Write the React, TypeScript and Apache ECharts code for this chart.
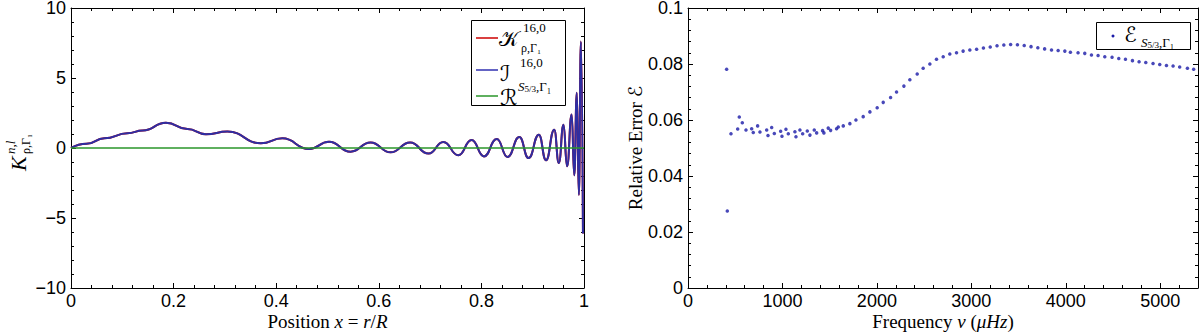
import React, { useEffect, useRef } from 'react';
import * as echarts from 'echarts';

// Left panel: kernel K^{n,l}_{rho,Gamma1} vs position x = r/R (extrema)
const kernelX = [0, 0.03, 0.065, 0.11, 0.14, 0.185, 0.227, 0.263, 0.305, 0.37, 0.412, 0.464, 0.503, 0.545, 0.584, 0.623, 0.661, 0.697, 0.726, 0.755, 0.781, 0.805, 0.83, 0.851, 0.874, 0.892, 0.912, 0.926, 0.942, 0.951, 0.96, 0.967, 0.976, 0.981, 0.986, 0.99, 0.994, 0.998];
const kernelY = [0, 0.3, 0.69, 1.05, 1.25, 1.81, 1.35, 0.98, 1.17, 0.34, 0.69, -0.07, 0.45, -0.26, 0.4, -0.31, 0.4, -0.4, 0.43, -0.52, 0.57, -0.6, 0.64, -0.64, 0.78, -0.72, 0.95, -0.88, 1.31, -1.07, 1.66, -1.31, 2.4, -1.95, 3.95, -3.35, 7.6, -6.1];
const refX = [0, 1];
const refY = [0, 0];

// Right panel: relative error vs frequency (muHz)
const freq = [409, 416, 455, 526, 543, 575, 614, 674, 691, 737, 762, 833, 847, 886, 914, 981, 995, 1037, 1062, 1132, 1143, 1185, 1214, 1263, 1291, 1337, 1362, 1425, 1439, 1485, 1510, 1573, 1591, 1644, 1714, 1778, 1855, 1926, 2003, 2067, 2145, 2208, 2286, 2349, 2427, 2490, 2561, 2631, 2702, 2772, 2843, 2913, 2984, 3056, 3128, 3200, 3272, 3344, 3416, 3488, 3560, 3632, 3704, 3776, 3849, 3919, 3990, 4049, 4130, 4201, 4272, 4342, 4413, 4490, 4561, 4632, 4706, 4776, 4847, 4924, 4995, 5066, 5136, 5206, 5288, 5354];
const relErr = [0.0781, 0.0275, 0.0551, 0.0568, 0.0611, 0.059, 0.0564, 0.0569, 0.0555, 0.0579, 0.0557, 0.0564, 0.0545, 0.0573, 0.0552, 0.056, 0.0542, 0.0567, 0.0551, 0.0558, 0.054, 0.0564, 0.0551, 0.0561, 0.0546, 0.0564, 0.0554, 0.0562, 0.0554, 0.0571, 0.0563, 0.0569, 0.0575, 0.0579, 0.0587, 0.06, 0.0612, 0.0629, 0.0644, 0.0663, 0.068, 0.07, 0.0721, 0.0744, 0.0764, 0.0785, 0.08, 0.0817, 0.0826, 0.0836, 0.084, 0.0846, 0.085, 0.0853, 0.0857, 0.0861, 0.0865, 0.0868, 0.087, 0.0869, 0.0866, 0.0862, 0.0858, 0.0854, 0.085, 0.0848, 0.0846, 0.0842, 0.084, 0.0838, 0.0832, 0.083, 0.0826, 0.0824, 0.082, 0.0817, 0.0812, 0.0808, 0.0805, 0.0802, 0.0798, 0.0795, 0.0793, 0.0789, 0.0785, 0.0781];

const SANS = 'Liberation Sans, Arial, sans-serif';
const SERIF = 'Liberation Serif, DejaVu Serif, serif';
const SCRIPT = 'DejaVu Serif, DejaVu Sans, serif';

const lineStyle = { color: '#000', width: 1 };
const labelStyle = { fontFamily: SANS, fontSize: 18, lineHeight: 16, color: '#000' };

function axis(gridIndex: number, position: string, min: number, max: number, interval: number, labels: boolean, extra: any = {}) {
  return {
    type: 'value',
    gridIndex,
    position,
    min,
    max,
    interval,
    axisLine: { show: true, onZero: false, lineStyle },
    axisTick: { show: true, inside: true, length: 5, lineStyle },
    minorTick: { show: true, splitNumber: 5, length: 3, lineStyle },
    splitLine: { show: false },
    minorSplitLine: { show: false },
    axisLabel: labels
      ? { ...labelStyle, margin: 5, showMaxLabel: extra.showMaxLabel ?? true, formatter: extra.formatter || ((v: number) => String(v)) }
      : { show: false },
    ...(extra.name
      ? { name: extra.name, nameLocation: 'middle', nameGap: extra.nameGap, nameMoveOverlap: false, nameTextStyle: extra.nameTextStyle }
      : {}),
  };
}

const minusFmt = (v: number) => (v < 0 ? '\u2212' + Math.abs(v) : String(v));

function txt(x: number, y: number, text: string, size: number, opts: any = {}) {
  return {
    type: 'text',
    x,
    y,
    z: 110,
    style: {
      text,
      fontSize: size,
      lineHeight: opts.lineHeight,
      fontFamily: opts.family || SERIF,
      fontStyle: opts.italic ? 'italic' : 'normal',
      fill: '#000',
      align: opts.align || 'left',
      verticalAlign: 'middle',
      rich: opts.rich,
    },
  };
}

const subRich = {
  a: { fontSize: 13, fontFamily: SERIF, fontStyle: 'italic', lineHeight: 15 },
  b: { fontSize: 9, fontFamily: SERIF, lineHeight: 9, verticalAlign: 'bottom' },
  c: { fontSize: 13, fontFamily: SERIF, lineHeight: 15 },
};

const nameRich = {
  r: { fontFamily: SERIF, fontSize: 19, lineHeight: 20 },
  i: { fontFamily: SERIF, fontSize: 19, lineHeight: 20, fontStyle: 'italic' },
  s: { fontFamily: SCRIPT, fontSize: 19, lineHeight: 20 },
};

export default function App() {
  const ref = useRef<HTMLDivElement>(null);
  useEffect(() => {
    document.body.style.margin = '0';
    const chart = echarts.init(ref.current!, null, { renderer: 'svg' });
    const kernel = kernelX.map((x, i) => [x, kernelY[i]]);
    const option: any = {
      animation: false,
      backgroundColor: '#fff',
      grid: [
        { left: 71, top: 8, width: 513, height: 280, outerBoundsMode: 'none' },
        { left: 688, top: 8, width: 510, height: 280, outerBoundsMode: 'none' },
      ],
      xAxis: [
        axis(0, 'bottom', 0, 1, 0.2, true, {
          name: '{r|Position }{i|x}{r| = }{i|r}{r|/}{i|R}',
          nameGap: 23,
          nameTextStyle: { rich: nameRich, verticalAlign: 'top' },
        }),
        axis(0, 'top', 0, 1, 0.2, false),
        axis(1, 'bottom', 0, 5400, 1000, true, {
          showMaxLabel: false,
          name: '{r|Frequency }{i|\u03bd}{r| (}{i|\u03bcHz}{r|)}',
          nameGap: 23,
          nameTextStyle: { rich: nameRich, verticalAlign: 'top' },
        }),
        axis(1, 'top', 0, 5400, 1000, false),
      ],
      yAxis: [
        axis(0, 'left', -10, 10, 5, true, { formatter: minusFmt }),
        axis(0, 'right', -10, 10, 5, false),
        axis(1, 'left', 0, 0.1, 0.02, true, {
          name: '{r|Relative Error }{s|\u2130}',
          nameGap: 43,
          nameTextStyle: { rich: nameRich },
        }),
        axis(1, 'right', 0, 0.1, 0.02, false),
      ],
      series: [
        { type: 'line', xAxisIndex: 0, yAxisIndex: 0, data: kernel, smooth: 0.5, smoothMonotone: 'x', showSymbol: false, lineStyle: { color: '#cc0000', width: 2 } },
        { type: 'line', xAxisIndex: 0, yAxisIndex: 0, data: kernel, smooth: 0.5, smoothMonotone: 'x', showSymbol: false, lineStyle: { color: '#2e2ea2', width: 2 } },
        { type: 'line', xAxisIndex: 0, yAxisIndex: 0, data: refX.map((x, i) => [x, refY[i]]), showSymbol: false, lineStyle: { color: '#2a962a', width: 1.5 } },
        { type: 'scatter', xAxisIndex: 2, yAxisIndex: 2, data: freq.map((f, i) => [f, relErr[i]]), symbol: 'circle', symbolSize: 3.5, itemStyle: { color: '#1a1aa8' } },
      ],
      graphic: [
        // left legend
        { type: 'rect', z: 100, shape: { x: 471.5, y: 20.5, width: 94, height: 85 }, style: { fill: '#fff', stroke: '#000', lineWidth: 1 } },
        { type: 'line', z: 101, shape: { x1: 476, y1: 38, x2: 498, y2: 38 }, style: { stroke: '#cc0000', lineWidth: 1.5 } },
        { type: 'line', z: 101, shape: { x1: 476, y1: 70, x2: 498, y2: 70 }, style: { stroke: '#3030b0', lineWidth: 1.5 } },
        { type: 'line', z: 101, shape: { x1: 476, y1: 96, x2: 498, y2: 96 }, style: { stroke: '#2a962a', lineWidth: 1.5 } },
        txt(499, 39, '\ud835\udca6', 21, { family: SCRIPT }),
        txt(523, 27, '16,0', 13, { lineHeight: 13 }),
        txt(521, 48, '\u03c1,\u0393\u2081', 12, { lineHeight: 11 }),
        txt(500, 73, '\u2110', 22, { family: SCRIPT }),
        txt(520, 62, '16,0', 13, { lineHeight: 11 }),
        txt(518, 86, '{a|S}{b|5/3}{c|,\u0393\u2081}', 13, { rich: subRich }),
        txt(500, 97, '\u211b', 22, { family: SCRIPT }),
        // right legend
        { type: 'rect', z: 100, shape: { x: 1096.5, y: 22.5, width: 94, height: 27 }, style: { fill: '#fff', stroke: '#000', lineWidth: 1 } },
        { type: 'circle', z: 101, shape: { cx: 1113, cy: 36, r: 1.5 }, style: { fill: '#1a1aa8' } },
        txt(1124, 35, '\u2130', 21, { family: SCRIPT }),
        txt(1141, 42, '{a|S}{b|5/3}{c|,\u0393\u2081}', 13, { rich: subRich }),
        // left y-axis name
        {
          type: 'group', x: 18, y: 157, rotation: Math.PI / 2,
          children: [
            txt(-14, 0, 'K', 22, { italic: true }),
            txt(3, -8, 'n,l', 13, { italic: true }),
            txt(3, 8, '\u03c1,\u0393\u2081', 12),
          ],
        },
      ],
    };
    chart.setOption(option);
    return () => chart.dispose();
  }, []);
  return <div ref={ref} style={{ width: 1200, height: 334 }} />;
}
